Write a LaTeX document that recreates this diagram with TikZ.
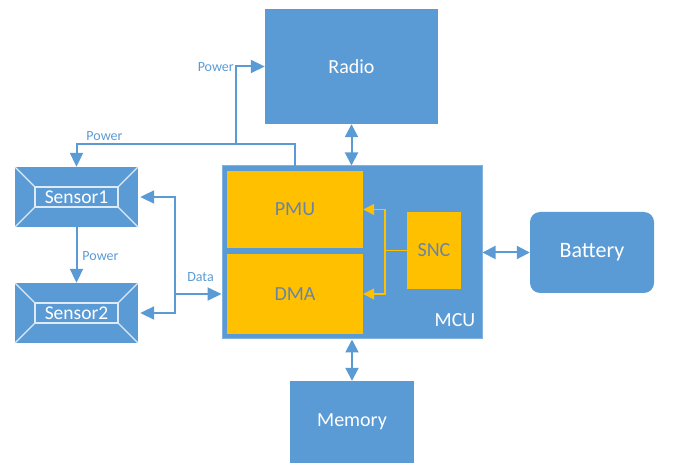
\documentclass[tikz,border=0pt]{standalone}
\usepackage{fontspec}
\setmainfont{Carlito}
\usetikzlibrary{arrows.meta,calc}
\definecolor{mblue}{RGB}{91,155,213}
\definecolor{morange}{RGB}{255,192,0}
\definecolor{mtext}{RGB}{105,132,168}
\definecolor{mline}{RGB}{222,235,247}
\definecolor{mborder}{RGB}{130,178,222}
\tikzset{
  blk/.style={rectangle, fill=mblue, text=white, inner sep=0pt, font=\fontsize{20}{20}\selectfont},
  sub/.style={rectangle, fill=morange, text=mtext, inner sep=0pt, font=\fontsize{20}{20}\selectfont},
  sens/.style={rectangle, fill=mblue, minimum width=123pt, minimum height=60pt, inner sep=0pt},
  sensin/.style={rectangle, draw=mline, line width=1.2pt, minimum width=83pt, minimum height=20pt, inner sep=0pt, text=white, font=\fontsize{19.5}{19.5}\selectfont},
  bev/.style={draw=mline, line width=1.2pt},
  conn/.style={draw=mblue, line width=2pt, -{Triangle[length=14pt,width=13pt]}},
  bconn/.style={draw=mblue, line width=2pt, {Triangle[length=13pt,width=13pt]}-{Triangle[length=13pt,width=13pt]}},
  oconn/.style={draw=morange, line width=1.6pt, -{Triangle[length=11pt,width=11pt]}},
  lbl/.style={text=mblue, inner sep=0pt, font=\fontsize{14}{14}\selectfont},
}
\begin{document}
\begin{tikzpicture}[x=1pt,y=-1pt]
\useasboundingbox (0,0) rectangle (678,473);
% main blocks
\node[blk, minimum width=173pt, minimum height=115pt] (radio) at (351.5,66.5) {Radio};
\node[blk, draw=mborder, line width=1pt, minimum width=260pt, minimum height=173pt] (mcu) at (352,252.5) {};
\node[text=white, inner sep=0pt, font=\fontsize{20}{20}\selectfont] (mculbl) at (455,320) {MCU};
\node[sub, minimum width=136pt, minimum height=77pt] (pmu) at (295,209.5) {PMU};
\node[sub, minimum width=136pt, minimum height=80pt] (dma) at (295,294) {DMA};
\node[sub, minimum width=54pt, minimum height=77pt] (snc) at (434,250.5) {SNC};
\node[blk, rounded corners=10pt, minimum width=124pt, minimum height=81pt, font=\fontsize{22}{22}\selectfont] (battery) at (592,252.5) {Battery};
\node[blk, minimum width=124pt, minimum height=82pt] (memory) at (352,422) {Memory};
% sensors
\node[sens] (s1) at (76.5,197) {};
\node[sensin] (s1in) at (76.5,197) {Sensor1};
\draw[bev] (s1.north west) -- (s1in.north west) (s1.north east) -- (s1in.north east)
  (s1.south west) -- (s1in.south west) (s1.south east) -- (s1in.south east);
\node[sens] (s2) at (76.5,313) {};
\node[sensin] (s2in) at (76.5,313) {Sensor2};
\draw[bev] (s2.north west) -- (s2in.north west) (s2.north east) -- (s2in.north east)
  (s2.south west) -- (s2in.south west) (s2.south east) -- (s2in.south east);
% connectors
\draw[bconn] (radio.south) -- (radio.south |- mcu.north);
\draw[bconn] (memory.north |- mcu.south) -- (memory.north);
\draw[bconn] (mcu.east |- battery.west) -- (battery.west);
% power
\coordinate (psrc) at (295,166);
\coordinate (pj) at (236,144);
\draw[conn] (psrc) |- (pj) -| (s1.north);
\draw[conn] (pj) |- (radio.west);
\node[lbl, anchor=east] (pw1) at (234,67) {Power};
\node[lbl] (pw2) at (104.5,136) {Power};
\draw[conn] (s1.south) -- (s2.north);
\node[lbl] (pw3) at (100.5,256) {Power};
% data
\coordinate (dj) at (175,294);
\draw[conn] (dj) -- (mcu.west |- dj);
\draw[conn] (dj) |- ($(s1.east)+(2,0)$);
\draw[conn] (dj) |- ($(s2.east)+(2,0)$);
\node[lbl] (data) at (200.5,277) {Data};
% SNC
\coordinate (sj) at (385,250.5);
\draw[morange, line width=1.6pt] (snc.west) -- (sj);
\draw[oconn] (sj) |- (pmu.east);
\draw[oconn] (sj) |- (dma.east);
\end{tikzpicture}
\end{document}
